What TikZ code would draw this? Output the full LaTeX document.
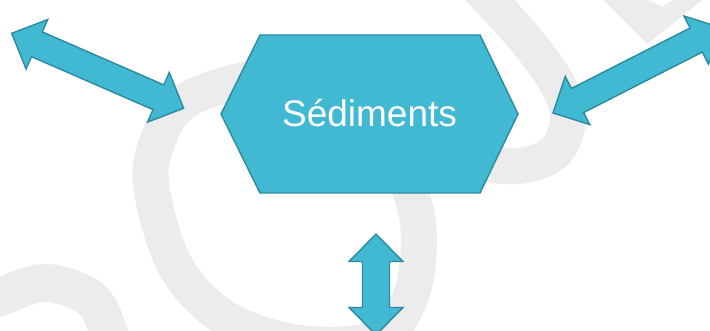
\documentclass[tikz,border=0pt]{standalone}
\usepackage{fontspec}
\setmainfont{Liberation Sans}
\definecolor{tealfill}{RGB}{65,185,211}
\definecolor{tealedge}{RGB}{42,139,160}
\definecolor{wmgrey}{RGB}{236,236,236}
\tikzset{
  blockshape/.style={fill=tealfill, draw=tealedge, line width=1.4pt, line join=miter},
  wm/.style={draw=wmgrey, line width=36pt},
  pics/dblarrow/.style={code={
    \path[blockshape] (0,0) -- (27.5,27) -- (27.5,13.5) -- (#1-27.5,13.5) -- (#1-27.5,27)
      -- (#1,0) -- (#1-27.5,-27) -- (#1-27.5,-13.5) -- (27.5,-13.5) -- (27.5,-27) -- cycle;
    \coordinate (-a) at (0,0);
    \coordinate (-b) at (#1,0);
  }},
}
\begin{document}
\begin{tikzpicture}[x=1pt,y=-1pt]
\useasboundingbox (0,0) rectangle (710,331);
\fill[white] (0,0) rectangle (710,331);
% watermark
\draw[wm] plot[smooth cycle, tension=0.6] coordinates {(151,183) (175,265) (225,318) (300,343) (378,338) (410,298) (419,240) (410,190) (380,115) (320,80) (260,78) (215,88) (180,105) (160,135)};
\draw[wm] plot[smooth, tension=0.6] coordinates {(470,-20) (490,0) (530,45) (558,85) (568,118) (555,152) (520,166) (480,163) (450,160)};
\draw[wm, line width=38pt] plot[smooth, tension=0.6] coordinates {(-20,305) (0,297) (45,283) (90,298) (108,330) (112,350)};
\fill[wmgrey] (603,0) -- (647,44) -- (715,-10) -- (715,0) -- (673,0) -- (662,7) -- (648,0) -- cycle;
% hexagon
\path[blockshape] (221,114) -- (260,35) -- (480,35) -- (518,114) -- (480,193) -- (260,193) -- cycle;
\node[font=\fontsize{37}{44}\selectfont, text=white, anchor=base, inner sep=0pt] (sed) at (369.5,127) {Sédiments};
% arrows
\pic[rotate=-23.56] (la) at (11.7,33.3) {dblarrow=187.6};
\pic[rotate=27] (ra) at (553,113) {dblarrow=188.2};
\pic[rotate=-90] (va) at (376,234) {dblarrow=101};
\end{tikzpicture}
\end{document}
